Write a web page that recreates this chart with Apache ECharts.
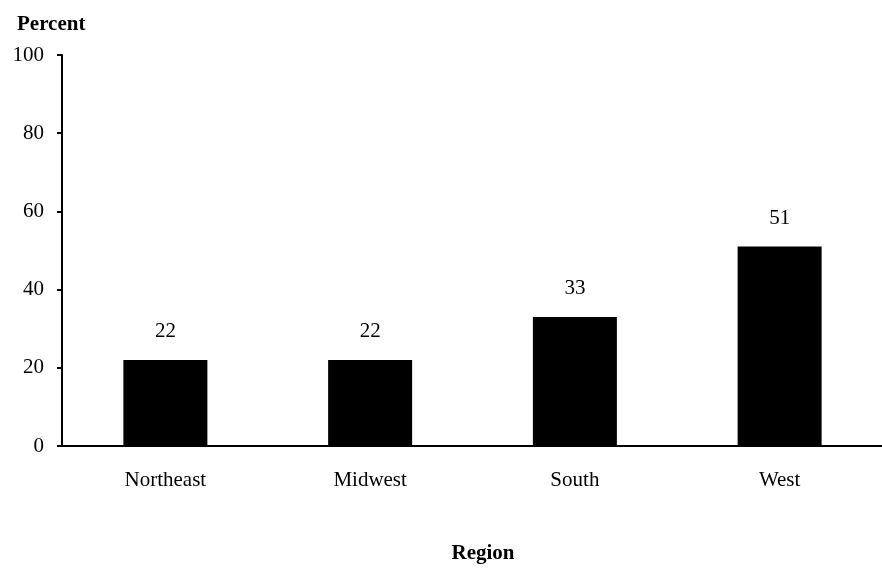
<!DOCTYPE html>
<html><head><meta charset="utf-8">
<script src="https://cdn.jsdelivr.net/npm/echarts@6/dist/echarts.min.js"></script>
<style>html,body{margin:0;padding:0;background:#fff}#c{width:882px;height:570px}</style>
</head><body><div id="c"></div>
<script>
var categories = ['Northeast', 'Midwest', 'South', 'West'];
var values = [22, 22, 33, 51];
var yTicks = [0, 20, 40, 60, 80, 100];

var font = '"Liberation Serif", "Times New Roman", serif';
var chart = echarts.init(document.getElementById('c'));
chart.setOption({
  animation: false,
  backgroundColor: '#fff',
  grid: { left: 63, right: -7, top: 55, bottom: 124 },
  title: [
    { text: 'Percent', left: 12, top: 9, textStyle: { fontFamily: font, fontSize: 21, fontWeight: 'bold', color: '#000' } },
    { text: 'Region', left: 478, textAlign: 'center', top: 538, textStyle: { fontFamily: font, fontSize: 21, fontWeight: 'bold', color: '#000' } }
  ],
  xAxis: {
    type: 'category', data: categories,
    axisLine: { lineStyle: { color: '#000', width: 2 } },
    axisTick: { show: false },
    axisLabel: { fontFamily: font, fontSize: 21, color: '#000', margin: 24 }
  },
  yAxis: {
    type: 'value', min: yTicks[0], max: yTicks[yTicks.length - 1], interval: 20,
    offset: 1,
    axisLine: { show: true, lineStyle: { color: '#000', width: 2 } },
    axisTick: { show: true, length: 5, lineStyle: { color: '#000', width: 2 } },
    splitLine: { show: false },
    axisLabel: { fontFamily: font, fontSize: 21, color: '#000', margin: 18 }
  },
  series: [{
    type: 'bar', data: values, barWidth: 84,
    itemStyle: { color: '#000' },
    label: { show: true, position: 'top', distance: 18, fontFamily: font, fontSize: 21, color: '#000' }
  }]
});
</script></body></html>
